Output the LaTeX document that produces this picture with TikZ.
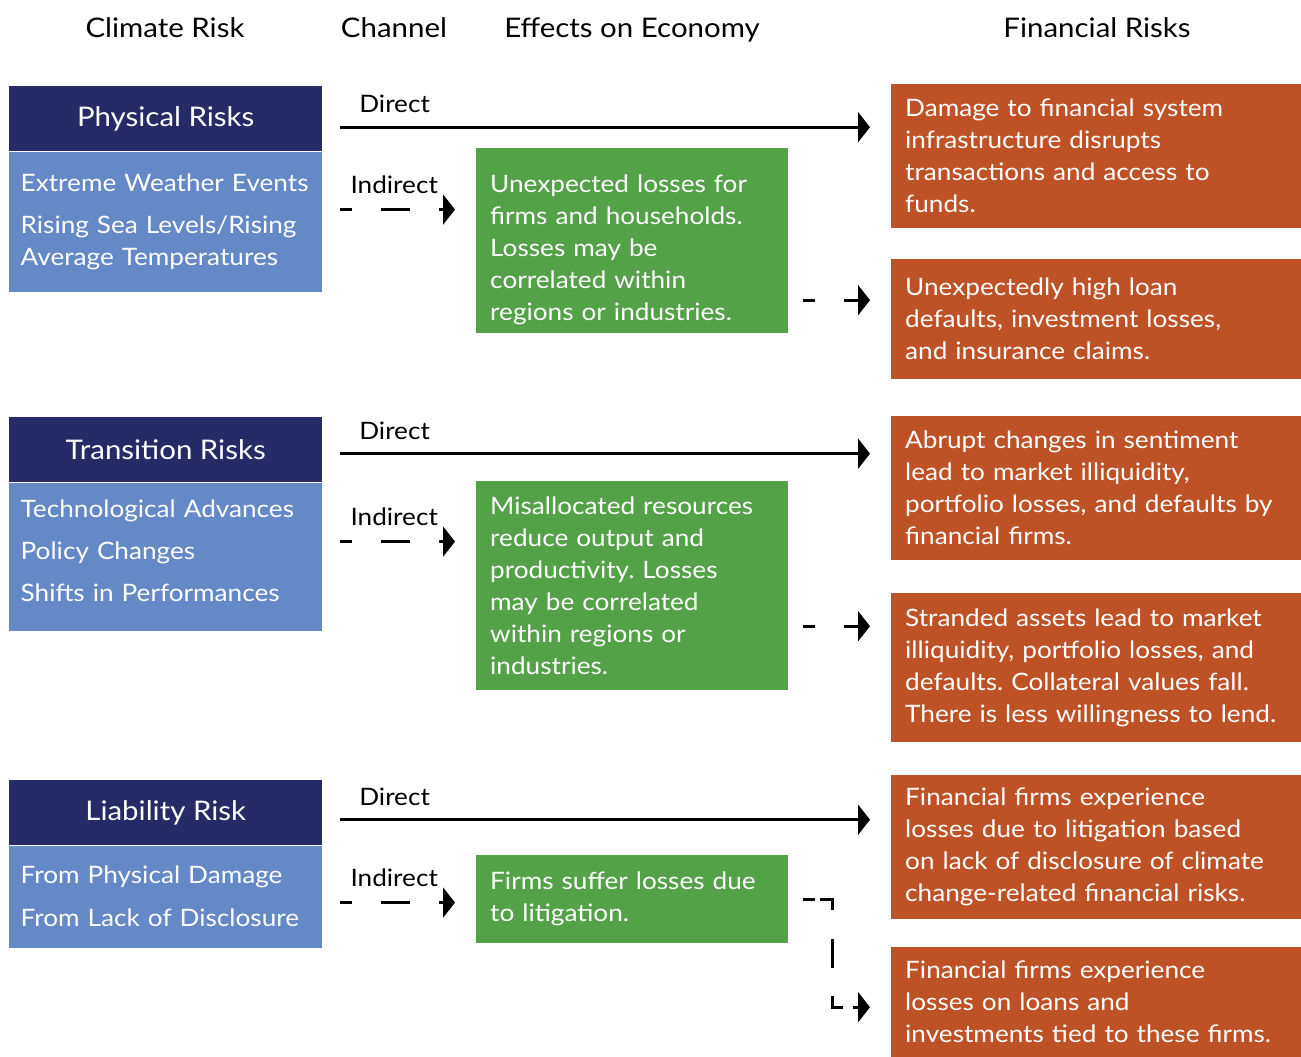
\documentclass[tikz,border=0pt]{standalone}
\usepackage{fontspec}
\setmainfont{Lato}[FakeStretch=1.09]
\usetikzlibrary{arrows.meta,positioning,calc}
\definecolor{riskdark}{RGB}{38,42,102}
\definecolor{risklight}{RGB}{100,137,199}
\definecolor{econgreen}{RGB}{84,162,72}
\definecolor{finorange}{RGB}{191,81,38}
\frenchspacing

\begin{document}
\begin{tikzpicture}[x=1pt, y=-1pt, >={Triangle[length=12pt,width=30pt]},
  every node/.style={font=\fontsize{24}{32}\selectfont},
  colhead/.style={font=\fontsize{27}{34}\selectfont, anchor=base},
  riskhead/.style={fill=riskdark, text=white, minimum width=313pt, minimum height=65pt, inner sep=0pt, font=\fontsize{27}{32}\selectfont},
  riskbody/.style={fill=risklight, text=white, text width=290pt, inner xsep=11.5pt, inner ysep=0pt, align=left},
  effect/.style={fill=econgreen, text=white, text width=284pt, inner xsep=14pt, align=left},
  finrisk/.style={fill=finorange, text=white, text width=382pt, inner xsep=14pt, align=left},
  chlabel/.style={text=black, inner sep=0pt},
  direct/.style={->, line width=2.6pt, shorten <=18pt, shorten >=21pt},
  indirect/.style={direct, dash pattern=on 29pt off 29pt, dash phase=17pt}
]
\useasboundingbox (0,0) rectangle (1301,1057);

% column titles
\node[colhead] (hClim) at (165,38) {Climate Risk};
\node[colhead] (hChan) at (394,38) {Channel};
\node[colhead] (hEff) at (632,38) {Effects on Economy};
\node[colhead] (hFin) at (1097,38) {Financial Risks};

% climate risks
\node[riskhead, anchor=north west] (physHead) at (9,86) {Physical Risks};
\node[riskbody, below=0pt of physHead, minimum height=140pt] (physBody) {Extreme Weather Events\\[10pt]Rising Sea Levels/Rising\\Average Temperatures};
\node[riskhead, anchor=north west] (tranHead) at (9,417) {Transition Risks};
\node[riskbody, below=0pt of tranHead, minimum height=148pt] (tranBody) {Technological Advances\\[10pt]Policy Changes\\[10pt]Shifts in Performances\rule[-12pt]{0pt}{0pt}};
\node[riskhead, anchor=north west] (liabHead) at (9,780) {Liability Risk};
\node[riskbody, below=0pt of liabHead, minimum height=102pt] (liabBody) {From Physical Damage\\[11pt]From Lack of Disclosure};

% effects on economy
\node[effect, anchor=north west, minimum height=185pt] (effPhys) at (476,148) {\rule{0pt}{36pt}Unexpected losses for\\firms and households.\\Losses may be\\correlated within\\regions or industries.};
\node[effect, anchor=north west, minimum height=209pt] (effTran) at (476,481) {Misallocated resources\\reduce output and\\productivity. Losses\\may be correlated\\within regions or\\industries.};
\node[effect, anchor=north west, minimum height=88pt] (effLiab) at (476,855) {Firms suffer losses due\\to litigation.};

% financial risks
\node[finrisk, anchor=north west, minimum height=144pt] (finA) at (891,84) {Damage to financial system\\infrastructure disrupts\\transactions and access to\\funds.};
\node[finrisk, anchor=north west, minimum height=120pt] (finB) at (891,259) {Unexpectedly high loan\\defaults, investment losses,\\and insurance claims.};
\node[finrisk, anchor=north west, minimum height=144pt] (finC) at (891,416) {Abrupt changes in sentiment\\lead to market illiquidity,\\portfolio losses, and defaults by\\financial firms.};
\node[finrisk, anchor=north west, minimum height=149pt] (finD) at (891,593) {Stranded assets lead to market\\illiquidity, portfolio losses, and\\defaults. Collateral values fall.\\There is less willingness to lend.};
\node[finrisk, anchor=north west, minimum height=144pt] (finE) at (891,775) {Financial firms experience\\losses due to litigation based\\on lack of disclosure of climate\\change-related financial risks.};
\node[finrisk, anchor=north west, minimum height=110pt] (finF) at (891,947) {Financial firms experience\\losses on loans and\\investments tied to these firms.};

% channels
\path ([yshift=-8.5pt]physHead.east) coordinate (dPhys);
\path ([yshift=-4pt]tranHead.east) coordinate (dTran);
\path ([yshift=-7pt]liabHead.east) coordinate (dLiab);
\path ([yshift=12pt]physBody.east) coordinate (iPhys);
\path ([yshift=15pt]tranBody.east) coordinate (iTran);
\path ([yshift=-6pt]liabBody.east) coordinate (iLiab);
\path ([yshift=-59.5pt]effPhys.east) coordinate (ePhys);
\path ([yshift=-40.5pt]effTran.east) coordinate (eTran);
\path ([yshift=-5pt]finF.west) coordinate (fLiab);

\draw[direct] (dPhys) -- node[chlabel, pos=0.127, above=13pt] {Direct} (dPhys -| finA.west);
\draw[direct] (dTran) -- node[chlabel, pos=0.127, above=13pt] {Direct} (dTran -| finC.west);
\draw[direct] (dLiab) -- node[chlabel, pos=0.127, above=13pt] {Direct} (dLiab -| finE.west);

\draw[indirect] (iPhys) -- node[chlabel, pos=0.4675, above=15pt] {Indirect} (iPhys -| effPhys.west);
\draw[indirect] (iTran) -- node[chlabel, pos=0.4675, above=15pt] {Indirect} (iTran -| effTran.west);
\draw[indirect] (iLiab) -- node[chlabel, pos=0.4675, above=15pt] {Indirect} (iLiab -| effLiab.west);

\draw[indirect, shorten <=15pt] (ePhys) -- (ePhys -| finB.west);
\draw[indirect, shorten <=15pt] (eTran) -- (eTran -| finD.west);
\draw[direct, shorten <=15pt, dash pattern=on 12pt off 5pt on 23pt off 29pt on 29pt off 28pt on 22pt off 10pt on 30pt]
  (effLiab.east) -- ++(44,0) |- (fLiab);
\end{tikzpicture}
\end{document}
